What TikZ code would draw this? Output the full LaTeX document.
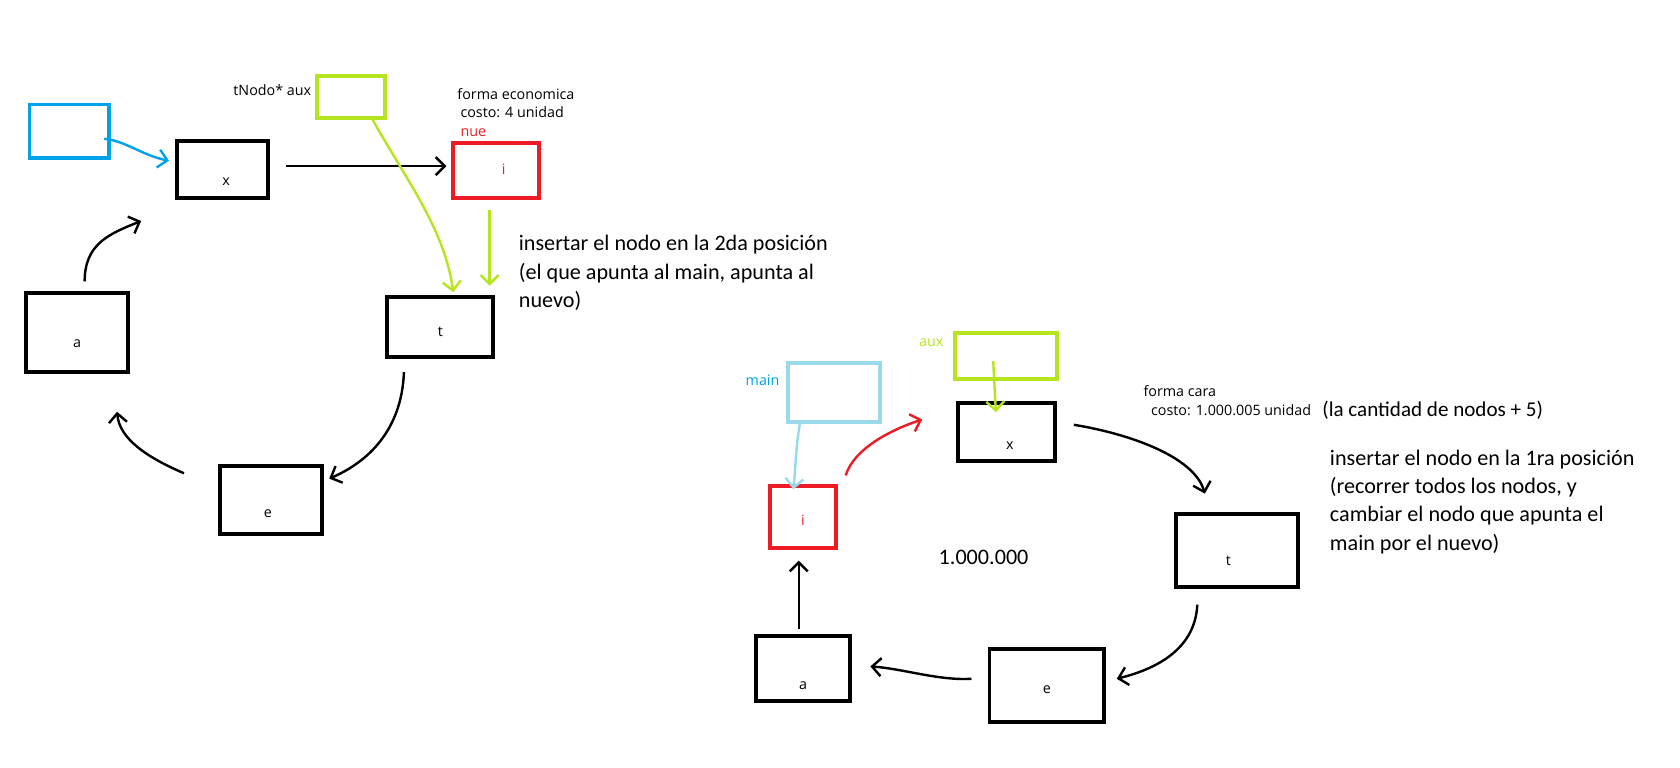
\documentclass[tikz,border=0pt]{standalone}
\usepackage{fontspec}
\setmainfont{Carlito}
\newfontfamily\uifont{Open Sans}
\usetikzlibrary{arrows.meta,calc}
\definecolor{paintblue}{HTML}{00A2E8}
\definecolor{paintsky}{HTML}{99D9EA}
\definecolor{paintlime}{HTML}{B5E61D}
\definecolor{paintred}{HTML}{ED1C24}

\begin{document}
\begin{tikzpicture}[x=0.25mm, y=-0.25mm,
    box/.style 2 args={draw, line width=2.6pt, minimum width=#1*0.25mm-3.6pt, minimum height=#2*0.25mm-3.6pt, inner sep=0pt},
    lbl/.style={font=\uifont\fontsize{9.5}{11.5}\selectfont, inner sep=0pt},
    note/.style={font=\fontsize{14.7}{18.85}\selectfont, align=left, inner sep=0pt, anchor=base west},
    arr/.style={line width=1.6pt, -{Straight Barb[length=6pt,width=12pt]}}]
    \useasboundingbox (0,0) rectangle (1568,716);

    % --- forma economica (left) ---
    \node[box={79}{55}, paintblue] (blueL) at (64.5,122.5) {};
    \node[box={69}{45}, paintlime] (auxL) at (327.5,90.5) {};
    \node[lbl, anchor=east] (auxLname) at ($(auxL.west)+(-3,-6)$) {tNodo* aux};
    \node[box={90}{58}] (xL) at (208,158) {};
    \node[box={86}{56}, paintred] (iL) at (463,159) {};
    \node[box={104}{61}] (tL) at (411,305.5) {};
    \node[box={100}{79}] (aL) at (72,310.5) {};
    \node[box={100}{69}] (eL) at (253,466.5) {};
    \node[lbl] (xLtxt) at ($(xL)+(3,12)$) {x};
    \node[lbl, text=paintred] (iLtxt) at ($(iL)+(7,-1)$) {i};
    \node[lbl] (tLtxt) at ($(tL)+(0,4)$) {t};
    \node[lbl] (aLtxt) at ($(aL)+(0,10)$) {a};
    \node[lbl] (eLtxt) at ($(eL)+(-3,13)$) {e};
    \node[lbl, anchor=north west, align=left, font=\uifont\fontsize{9.5}{12}\selectfont] (costL) at ($(iL.north west)+(6,-49)$)
        {forma economica\\ \hspace*{2pt}costo: 4 unidad\\ \hspace*{2pt}\textcolor{paintred}{nue}};
    \node[note] (noteL) at (484,287) {insertar el nodo en la 2da posición\\(el que apunta al main, apunta al\\nuevo)};

    \draw[arr, paintblue] ($(blueL.east)+(-6,7)$) .. controls +(20,2) and +(-25,-5) .. ($(xL.west)+(-6,-8)$);
    \draw[arr] ($(xL.east)+(15,-3)$) -- ($(iL.west)+(-4,-4)$);
    \draw[arr, paintlime] ($(auxL.south)+(19,-3)$) .. controls +(30,55) and +(-8,-60) .. ($(tL.north)+(12,-3)$);
    \draw[arr, paintlime] ($(iL.south)+(-6,10)$) -- ($(tL.north)+(46,-9)$);
    \draw[arr] ($(tL.south)+(-34,12)$) .. controls +(-2,55) and +(35,-15) .. ($(eL.north east)+(5,14)$);
    \draw[arr] ($(eL.north west)+(-32,9)$) .. controls +(-35,-15) and +(2,25) .. ($(aL.south east)+(-12,35)$);
    \draw[arr] ($(aL.north)+(7,-9)$) .. controls +(0,-35) and +(-30,12) .. ($(xL.south west)+(-32,20)$);

    % --- forma cara (right) ---
    \node[box={91}{60}, paintsky] (mainR) at (778.5,366) {};
    \node[lbl, text=paintblue, anchor=east] (mainRname) at ($(mainR.west)+(-6,-11)$) {main};
    \node[box={100}{48}, paintlime] (auxR) at (939,332) {};
    \node[lbl, text=paintlime, anchor=east] (auxRname) at ($(auxR.west)+(-9,-12)$) {aux};
    \node[box={95}{59}] (xR) at (939.5,403.5) {};
    \node[box={67}{63}, paintred] (iR) at (749.5,482.5) {};
    \node[box={119}{73}] (tR) at (1154.5,513.5) {};
    \node[box={93}{66}] (aR) at (749.5,624) {};
    \node[box={112}{73}] (eR) at (977,639.5) {};
    \node[lbl] (xRtxt) at ($(xR)+(3,12)$) {x};
    \node[lbl, text=paintred] (iRtxt) at ($(iR)+(0,3)$) {i};
    \node[lbl] (tRtxt) at ($(tR)+(-8,10)$) {t};
    \node[lbl] (aRtxt) at ($(aR)+(0,16)$) {a};
    \node[lbl] (eRtxt) at ($(eR)+(0,4)$) {e};
    \node[note, anchor=center] (countR) at (918,520) {1.000.000};
    \node[lbl, anchor=north west, align=left, font=\uifont\fontsize{9.5}{12}\selectfont] (costR) at (1067,360)
        {forma cara\\ \hspace*{5pt}costo: 1.000.005 unidad};
    \node[note, font=\fontsize{14}{16}\selectfont] (costRnote) at ($(costR.base east)+(10,1)$) {(la cantidad de nodos + 5)};
    \node[note] (noteR) at (1241,513.5) {insertar el nodo en la 1ra posición\\(recorrer todos los nodos, y\\cambiar el nodo que apunta el\\main por el nuevo)};

    \draw[arr, paintsky] ($(mainR.south)+(-32,0)$) .. controls +(-4,25) and +(2,-20) .. ($(iR.north)+(-9,5)$);
    \draw[arr, paintlime] ($(auxR.center)+(-12,5)$) -- ($(xR.north)+(-10,10)$);
    \draw[arr, paintred] ($(iR.north east)+(7,-8)$) .. controls +(8,-25) and +(-30,10) .. ($(xR.west)+(-32,-12)$);
    \draw[arr] ($(xR.east)+(16,-7)$) .. controls +(50,8) and +(-10,-35) .. ($(tR.north)+(-30,-17)$);
    \draw[arr] ($(tR.south)+(-37,15)$) .. controls +(-2,40) and +(40,-10) .. ($(eR.east)+(10,-6)$);
    \draw[arr] ($(eR.west)+(-15,-6)$) .. controls +(-30,2) and +(30,2) .. ($(aR.east)+(17,-2)$);
    \draw[arr] ($(aR.north)+(-4,-5)$) -- ($(iR.south)+(-4,10)$);
\end{tikzpicture}
\end{document}
